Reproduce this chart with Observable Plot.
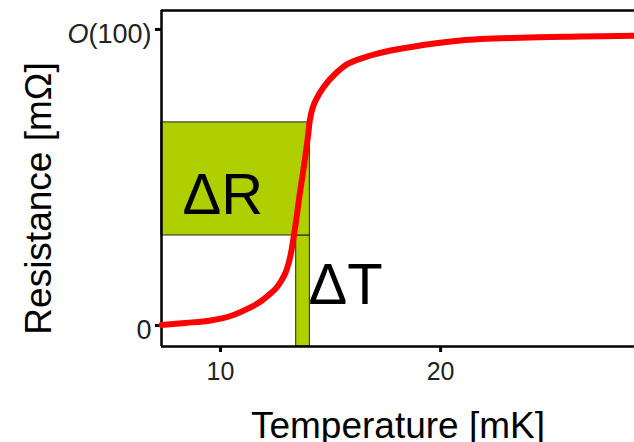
<!DOCTYPE html>
<html><head><meta charset="utf-8">
<script src="https://cdn.jsdelivr.net/npm/d3@7"></script>
<script src="https://cdn.jsdelivr.net/npm/@observablehq/plot@0.6"></script>
<style>
html,body{margin:0;padding:0;background:#fff;overflow:hidden;}
</style>
</head><body><div id="chart"></div>
<script>
// Curve
const temps  = [7.41, 8.5, 9.64, 10.55, 11.45, 11.91, 12.36, 12.64, 12.86, 13.05, 13.18, 13.30, 13.39, 13.48, 13.57, 13.68, 13.82, 13.95, 14.07, 14.15, 14.27, 14.41, 14.77, 15.32, 15.91, 16.91, 17.82, 19.18, 21.0, 23.73, 26.45, 28.9];
const resist = [0.17, 0.85, 1.7, 3.2, 6.1, 8.1, 10.8, 12.8, 15.2, 17.9, 20.9, 24.7, 28.7, 33.1, 37.8, 43.9, 50.7, 57.4, 64.2, 69.3, 73.3, 76.0, 80.5, 85.1, 88.5, 91.2, 92.9, 94.6, 96.3, 97.2, 97.6, 97.9];
const xDomain = [7.41, 28.9];
const yDomain = [-7.1, 106.4];
const xTicks = [10, 20];
const yTicks = [0, 100];
const yTickLabels = ["0", "O(100)"];
// ΔR band (temperature span, resistance span), ΔT band
const bandR_T = [7.41, 14.15];
const bandR_R = [30.4, 68.6];
const bandT_T = [13.53, 14.15];
const bandT_R = [-7.1, 30.4];
const annotations = ["ΔR", "ΔT"];
const annotT = [8.36, 14.09];
const annotR = [37.8, 7.1];
const xLabel = "Temperature [mK]";
const yLabel = "Resistance [mΩ]";

const curve = temps.map((t, i) => ({t, r: resist[i]}));
const rects = [
  {x1: bandT_T[0], x2: bandT_T[1], y1: bandT_R[0], y2: bandT_R[1]},
  {x1: bandR_T[0], x2: bandR_T[1], y1: bandR_R[0], y2: bandR_R[1]}
];
const annots = annotations.map((s, i) => ({s, t: annotT[i], r: annotR[i]}));
const yLab = yTicks.map((v, i) => ({v, s: yTickLabels[i]}));
const green = "#b0cf00";

const plot = Plot.plot({
  width: 634,
  height: 442,
  marginLeft: 161,
  marginRight: 0,
  marginTop: 10,
  marginBottom: 96,
  style: {fontFamily: "'Liberation Sans', Arial, sans-serif", color: "#000", background: "#fff"},
  x: {domain: xDomain},
  y: {domain: yDomain},
  marks: [
    Plot.rect(rects, {x1: "x1", x2: "x2", y1: "y1", y2: "y2", fill: green, stroke: "#222", strokeWidth: 1}),
    Plot.ruleX([xDomain[0]], {stroke: "#000", strokeWidth: 2.5}),
    Plot.ruleY([yDomain[0], yDomain[1]], {stroke: "#000", strokeWidth: 2.5}),
    Plot.axisX({ticks: xTicks, tickSize: 6, tickPadding: 10, fontSize: 25, strokeWidth: 3, label: null, fill: "#222", dx: 2}),
    Plot.axisY({ticks: yTicks, tickSize: 6, tickFormat: () => "", strokeWidth: 3, label: null}),
    Plot.text(yLab, {x: xDomain[0], y: "v", text: "s", textAnchor: "end", dx: -10, dy: 5, fontSize: 27, fill: "#222"}),
    Plot.line(curve, {x: "t", y: "r", stroke: "#ff0000", strokeWidth: 6, curve: "catmull-rom"}),
    Plot.text(annots, {x: "t", y: "r", text: "s", textAnchor: "start", lineAnchor: "bottom", fontSize: 58, fill: "#000"}),
    Plot.text([xLabel], {text: d => d, frameAnchor: "bottom", textAnchor: "middle", lineAnchor: "bottom", dy: 91, fontSize: 37, fill: "#000"}),
    Plot.text([yLabel], {text: d => d, frameAnchor: "left", textAnchor: "middle", rotate: -90, lineAnchor: "bottom", dx: -111, dy: 20, fontSize: 37, fill: "#000"})
  ]
});
document.getElementById("chart").appendChild(plot);
// italic O in "O(100)"
plot.querySelectorAll("text").forEach(el => {
  if (el.textContent === "O(100)") {
    el.textContent = "";
    const ns = "http://www.w3.org/2000/svg";
    const a = document.createElementNS(ns, "tspan");
    a.setAttribute("font-style", "italic");
    a.textContent = "O";
    const b = document.createElementNS(ns, "tspan");
    b.textContent = "(100)";
    el.appendChild(a); el.appendChild(b);
  }
});
</script>
</body></html>
